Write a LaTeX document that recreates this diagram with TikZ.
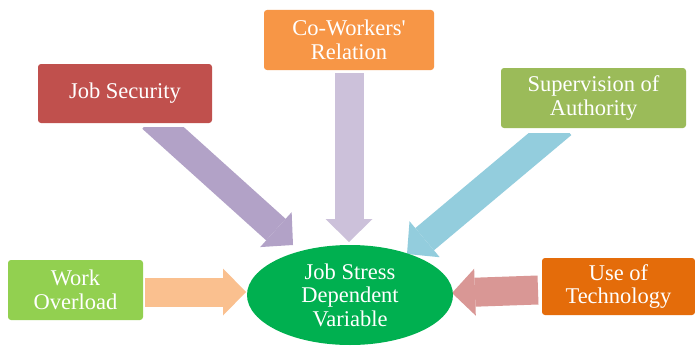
\documentclass[tikz,border=0pt]{standalone}
\usepackage{fontspec}
\setmainfont{Liberation Serif}
\usetikzlibrary{arrows.meta,shapes.geometric,backgrounds}
\definecolor{cwfill}{HTML}{F79646}
\definecolor{jsfill}{HTML}{C0504D}
\definecolor{svfill}{HTML}{9BBB59}
\definecolor{wofill}{HTML}{92D050}
\definecolor{utfill}{HTML}{E46C0A}
\definecolor{elfill}{HTML}{00B050}
\definecolor{jsarr}{HTML}{B2A2C7}
\definecolor{cwarr}{HTML}{CCC1DA}
\definecolor{svarr}{HTML}{93CDDD}
\definecolor{woarr}{HTML}{FAC08F}
\definecolor{utarr}{HTML}{D99795}
\begin{document}
\begin{tikzpicture}[x=1pt,y=-1pt,
  box/.style={rounded corners=3pt, text=white, align=center, inner sep=0pt,
    font=\fontsize{22.5}{23.5}\selectfont},
  fat/.style={line width=29pt, -{Triangle[width=47pt,length=23pt,line width=0pt]}}]
\useasboundingbox (0,0) rectangle (695,345);
% boxes
\node[box, fill=cwfill, minimum width=170pt, minimum height=60pt] (cw) at (349,40) {Co-Workers\textquotesingle\\Relation};
\node[box, fill=jsfill, minimum width=174pt, minimum height=59pt] (js) at (125,93.5) {Job Security};
\node[box, fill=svfill, minimum width=185pt, minimum height=60pt] (sv) at (593.5,98) {Supervision of\\Authority};
\node[box, fill=wofill, minimum width=135pt, minimum height=60pt] (wo) at (75.5,290) {Work\\Overload};
\node[box, fill=utfill, minimum width=153pt, minimum height=57pt] (ut) at (618.5,286.5) {Use of\\Technology};
\node[ellipse, fill=elfill, text=white, align=center, inner sep=0pt,
  minimum width=206pt, minimum height=100pt,
  font=\fontsize{22.5}{23.5}\selectfont] (jsd) at (350,295) {Job Stress\\Dependent\\Variable};
% arrow end points
\coordinate (js-s) at (152,118);
\coordinate (js-t) at (293,245);
\coordinate (cw-s) at (349,73);
\coordinate (cw-t) at (349,242);
\coordinate (sv-s) at (562,124);
\coordinate (sv-t) at (407,254);
\coordinate (wo-s) at (145,292);
\coordinate (wo-t) at (246,292);
\coordinate (ut-s) at (538,290);
\coordinate (ut-t) at (452,293);
\begin{scope}[on background layer]
\fill[white] (0,0) rectangle (695,345);
\begin{scope}
\clip (0,127) rectangle (695,345);
\draw[fat, draw=jsarr] (js-s) -- (js-t);
\end{scope}
\draw[fat, draw=cwarr] (cw-s) -- (cw-t);
\begin{scope}
\clip (0,133) rectangle (695,345);
\draw[fat, draw=svarr] (sv-s) -- (sv-t);
\end{scope}
\draw[fat, draw=woarr] (wo-s) -- (wo-t);
\draw[fat, draw=utarr] (ut-s) -- (ut-t);
\end{scope}
\end{tikzpicture}
\end{document}
